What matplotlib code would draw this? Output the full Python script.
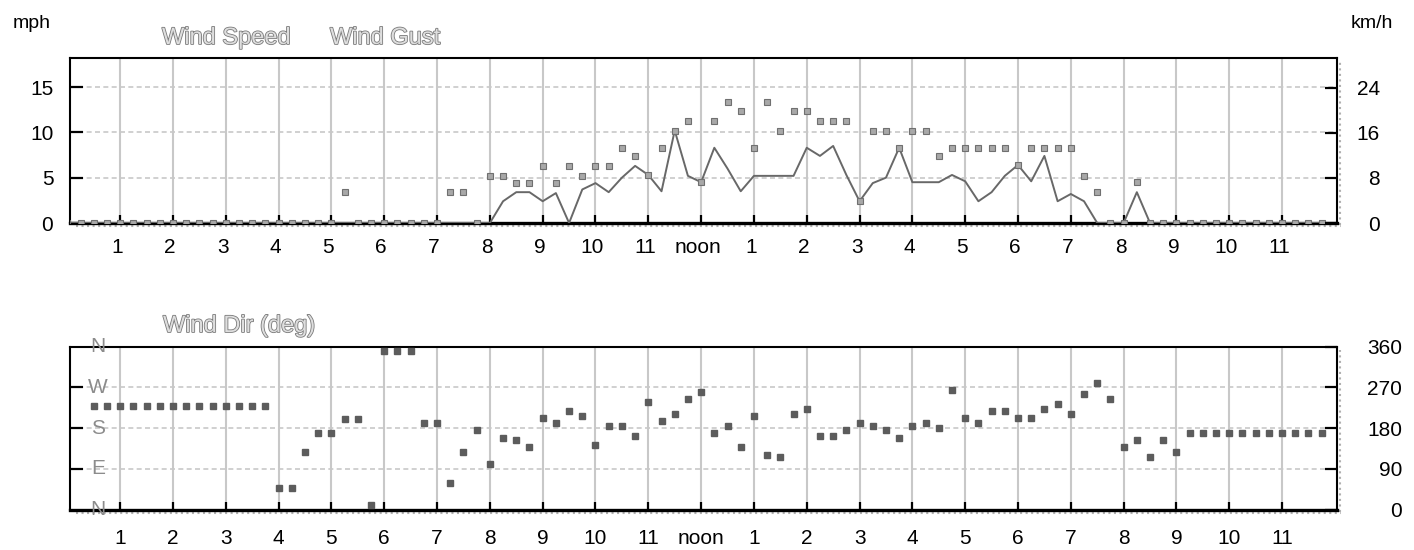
import numpy as np
import matplotlib
matplotlib.use('Agg')
import matplotlib.pyplot as plt
import matplotlib.patheffects as pe
import matplotlib.transforms as mtransforms

plt.rcParams['font.family'] = ['Liberation Sans', 'DejaVu Sans']

# 15 minute readings over one day (hours from midnight)
hours = np.arange(96) * 0.25

hour_ticks = list(range(1, 24))
hour_labels = ['1', '2', '3', '4', '5', '6', '7', '8', '9', '10', '11', 'noon',
               '1', '2', '3', '4', '5', '6', '7', '8', '9', '10', '11']

# wind speed (mph)
speed = [0] * 33 + [
    2.4, 3.4, 3.4, 2.4, 3.3, 0, 3.7, 4.4,       # 8:15 - 10:00
    3.4, 5.0, 6.3, 5.3, 3.5, 10.2, 5.2, 4.5,    # 10:15 - 12:00
    8.3, 6.0, 3.5, 5.2, 5.2, 5.2, 5.2, 8.3,     # 12:15 - 2:00
    7.4, 8.5, 5.3, 2.4, 4.4, 5.0, 8.3, 4.5,     # 2:15 - 4:00
    4.5, 4.5, 5.3, 4.6, 2.4, 3.4, 5.2, 6.4,     # 4:15 - 6:00
    4.6, 7.4, 2.4, 3.2, 2.4, 0, 0, 0,           # 6:15 - 8:00
    3.4, 0] + [0] * 13

# wind gust (mph)
gust = [0] * 21 + [3.4] + [0] * 7 + [3.4, 3.4, 0] + [
    5.2, 5.2, 4.4, 4.4, 6.3, 4.4, 6.3, 5.2,     # 8:00 - 9:45
    6.3, 6.3, 8.3, 7.4, 5.3, 8.3, 10.2, 11.2,   # 10:00 - 11:45
    4.5, 11.2, 13.3, 12.3, 8.3, 13.3, 10.2, 12.3,
    12.3, 11.2, 11.2, 11.2, 2.4, 10.2, 10.2, 8.3,
    10.2, 10.2, 7.4, 8.3, 8.3, 8.3, 8.3, 8.3,
    6.4, 8.3, 8.3, 8.3, 8.3, 5.2, 3.4, 0,
    0, 4.5] + [0] * 14

# wind direction (deg)
wind_dir = [np.nan, np.nan] + [228] * 14 + [
    47, 47, 126, 169, 169, 200, 200, 10,         # 4:00 - 5:45
    350, 350, 350, 191, 191, 58, 126, 175,       # 6:00 - 7:45
    100, 159, 154, 138, 201, 191, 217, 206,      # 8:00 - 9:45
    142, 185, 185, 163, 238, 196, 212, 244,      # 10:00 - 11:45
    260, 169, 185, 138, 206, 121, 116, 212,      # noon - 1:45
    223, 163, 163, 175, 191, 185, 175, 159,      # 2:00 - 3:45
    185, 191, 180, 265, 201, 191, 217, 217,      # 4:00 - 5:45
    201, 201, 223, 233, 212, 254, 280, 244,      # 6:00 - 7:45
    138, 154, 116, 154, 127] + [169] * 11

compass_deg = [0, 90, 180, 270, 360]
compass_labels = ['N', 'E', 'S', 'W', 'N']

mph_ticks = [0, 5, 10, 15]
kmh_ticks = [0, 8, 16, 24]
deg_ticks = [0, 90, 180, 270, 360]

GRID = '#c8c8c8'
W, H = 1414, 550


def style_axis(ax, fig):
    ax.set_xlim(0.05, 24.04)
    ax.set_xticks(hour_ticks)
    ax.set_xticklabels(hour_labels)
    ax.grid(axis='x', color=GRID, lw=1.5, ls='-', zorder=0)
    ax.grid(axis='y', color=GRID, lw=1.2, ls=(0, (3, 2)), zorder=0)
    ax.set_axisbelow(True)
    ax.tick_params(axis='x', direction='in', length=6, width=1.6, pad=11,
                   labelsize=15, colors='black', top=False)
    for s in ['left', 'right', 'top']:
        ax.spines[s].set_linewidth(1.5)
    ax.spines['bottom'].set_linewidth(2.4)
    shift = mtransforms.ScaledTranslation(-3 / 100, 0, fig.dpi_scale_trans)
    for lbl in ax.get_xticklabels():
        lbl.set_transform(lbl.get_transform() + shift)
    # little grey shadow under and right of the frame
    down = mtransforms.ScaledTranslation(0, -3 / 100, fig.dpi_scale_trans)
    right = mtransforms.ScaledTranslation(3 / 100, 0, fig.dpi_scale_trans)
    ax.plot([0.005, 1.003], [0, 0], transform=ax.transAxes + down,
            color='#b0b0b0', ls=':', lw=1.5, clip_on=False)
    ax.plot([1, 1], [-0.015, 0.98], transform=ax.transAxes + right,
            color='#b0b0b0', ls=':', lw=1.5, clip_on=False)


def main():
    fig = plt.figure(figsize=(W / 100, H / 100), dpi=100)
    ax1 = fig.add_axes([70 / W, 1 - 223 / H, 1267 / W, 165 / H])
    ax2 = fig.add_axes([70 / W, 1 - 509.5 / H, 1267 / W, 163 / H])

    # top: speed and gust
    ax1.plot(hours, speed, color='#686868', lw=1.4, zorder=3)
    ax1.plot(hours, gust, 's', ms=3.8, mfc='#a8a8a8', mec='#707070', mew=0.8, zorder=4)
    ax1.set_ylim(0, 18.2)
    ax1.set_yticks(mph_ticks)
    ax1.tick_params(axis='y', direction='in', length=9, width=1.6, pad=12, labelsize=15)
    style_axis(ax1, fig)

    ax1r = ax1.twinx()
    ax1r.set_ylim(0, 18.2 * 1.609)
    ax1r.set_yticks(kmh_ticks)
    ax1r.tick_params(axis='y', direction='in', length=9, width=1.6, pad=31, labelsize=15)
    for lbl in ax1r.get_yticklabels():
        lbl.set_horizontalalignment('right')
    for s in ax1r.spines.values():
        s.set_visible(False)

    # bottom: direction
    ax2.plot(hours, wind_dir, 's', ms=4.8, color='#5c5c5c', zorder=4)
    ax2.set_ylim(0, 360)
    ax2.set_yticks([90, 180, 270])
    ax2.tick_params(axis='y', direction='in', length=9, width=1.6, labelleft=False)
    style_axis(ax2, fig)
    ax2.tick_params(axis='x', pad=14)
    blend = mtransforms.blended_transform_factory(ax2.transAxes, ax2.transData)
    for d, s in zip(compass_deg, compass_labels):
        ax2.text(0.022, d, s, transform=blend, ha='center', va='center',
                 fontsize=15, color='#8c8c8c', zorder=5, clip_on=False)

    ax2r = ax2.twinx()
    ax2r.set_ylim(0, 360)
    ax2r.set_yticks(deg_ticks)
    ax2r.tick_params(axis='y', direction='in', length=9, width=1.6, pad=47, labelsize=15)
    for lbl in ax2r.get_yticklabels():
        lbl.set_horizontalalignment('right')
    for s in ax2r.spines.values():
        s.set_visible(False)

    # labels
    fig.text(32 / W, 1 - 24 / H, 'mph', fontsize=14, ha='center', va='center')
    fig.text(1372 / W, 1 - 24 / H, 'km/h', fontsize=14, ha='center', va='center')
    outline = [pe.withStroke(linewidth=1.2, foreground='#7a7a7a')]
    for x, y, s in [(162, 38, 'Wind Speed'), (330, 38, 'Wind Gust'), (163, 326, 'Wind Dir (deg)')]:
        fig.text(x / W, 1 - y / H, s, fontsize=17, ha='left', va='center',
                 color='#dedede', path_effects=outline)

    fig.savefig('out.png', dpi=100)


if __name__ == '__main__':
    main()
